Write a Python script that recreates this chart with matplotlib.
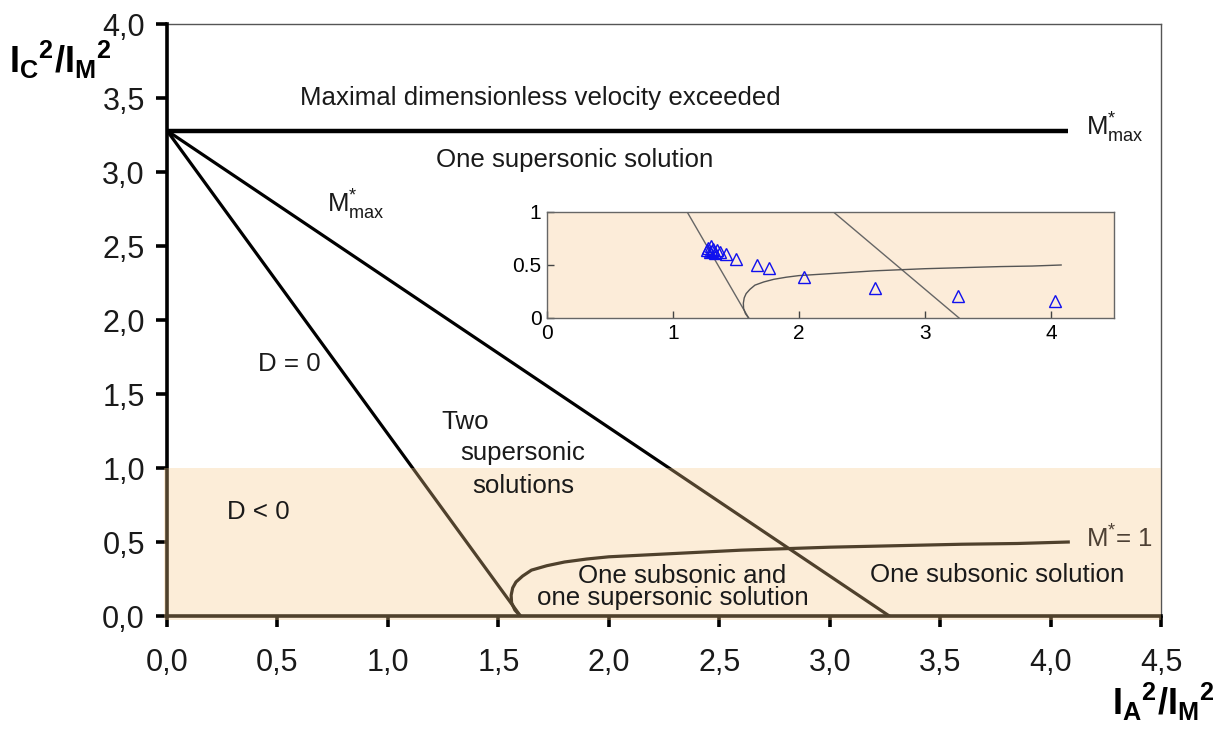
import matplotlib
matplotlib.use("Agg")
import matplotlib.pyplot as plt
from matplotlib.patches import Rectangle
from matplotlib.ticker import FuncFormatter, FixedLocator

plt.rcParams['font.family'] = ['Liberation Sans', 'DejaVu Sans']
plt.rcParams['mathtext.fontset'] = 'custom'
plt.rcParams['mathtext.rm'] = 'Liberation Sans'
plt.rcParams['mathtext.it'] = 'Liberation Sans:italic'
plt.rcParams['mathtext.bf'] = 'Liberation Sans:bold'

# ---------------- data ----------------
mmax_level = 3.28          # I_C^2/I_M^2 of the horizontal M*max line
mmax_line_end = 4.08       # x extent of horizontal line
dzero_x_intercept = 1.60   # D = 0 line hits y=0
mmax_x_intercept = 3.27    # diagonal M*max line hits y=0

curve_x = [1.60, 1.575, 1.56, 1.558, 1.565, 1.58, 1.61, 1.65, 1.72, 1.80, 1.90, 2.00,
           2.20, 2.40, 2.60, 2.80, 3.00, 3.30, 3.60, 3.85, 4.08]
curve_y = [0.00, 0.04, 0.09, 0.14, 0.19, 0.23, 0.27, 0.31, 0.34, 0.365, 0.385, 0.40,
           0.415, 0.43, 0.445, 0.455, 0.465, 0.475, 0.485, 0.49, 0.50]

tri_x = [1.27, 1.28, 1.29, 1.30, 1.31, 1.32, 1.33, 1.35, 1.37, 1.42, 1.50, 1.67, 1.76,
         2.04, 2.60, 3.26, 4.03]
tri_y = [0.64, 0.66, 0.62, 0.68, 0.63, 0.65, 0.61, 0.64, 0.62, 0.60, 0.56, 0.50, 0.47,
         0.385, 0.28, 0.21, 0.165]

x_ticks = [0.0, 0.5, 1.0, 1.5, 2.0, 2.5, 3.0, 3.5, 4.0, 4.5]
y_ticks = [0.0, 0.5, 1.0, 1.5, 2.0, 2.5, 3.0, 3.5, 4.0]
inset_x_ticks = [0, 1, 2, 3, 4]
inset_y_ticks = [0, 0.5, 1]
shade_top = 1.0

# ---------------- figure ----------------
fig = plt.figure(figsize=(12.17, 7.29), dpi=100)
ax = fig.add_axes([0.1372, 0.155, 0.8168, 0.812])
ax.set_xlim(0, 4.5)
ax.set_ylim(0, 4.0)

lw = 2.3
ax.plot([0, mmax_line_end], [mmax_level, mmax_level], color='black', lw=3.2,
        solid_capstyle='butt', zorder=2)
ax.plot([0, dzero_x_intercept], [mmax_level, 0], color='black', lw=lw, zorder=2)
ax.plot([0, mmax_x_intercept], [mmax_level, 0], color='black', lw=lw, zorder=2)
ax.plot(curve_x, curve_y, color='black', lw=lw, zorder=2)

for s in ['left', 'bottom']:
    ax.spines[s].set_linewidth(2.6)
    ax.spines[s].set_color('black')
    ax.spines[s].set_zorder(2.6)
for s in ['top', 'right']:
    ax.spines[s].set_linewidth(1.0)
    ax.spines[s].set_color('#555555')

# translucent shaded band laid over the lines and spines (makes them brownish)
ax.add_patch(Rectangle((-0.012, -0.025), 4.5 + 0.012, shade_top + 0.025,
                       facecolor='#F6C88A', alpha=0.325, edgecolor='none',
                       zorder=3, transform=ax.transData, clip_on=False))

ax.xaxis.set_major_locator(FixedLocator(x_ticks))
ax.yaxis.set_major_locator(FixedLocator(y_ticks))
comma = FuncFormatter(lambda v, p: f"{v:.1f}".replace('.', ','))
ax.xaxis.set_major_formatter(comma)
ax.yaxis.set_major_formatter(comma)
ax.tick_params(axis='both', direction='out', length=8, width=2.6, labelsize=22,
               color='black', labelcolor='#1a1a1a')
ax.tick_params(axis='x', pad=15)
ax.tick_params(axis='y', pad=8)
ax.tick_params(top=False, right=False)

fs = 18.6
tk = dict(fontsize=fs, color='#1a1a1a', zorder=5)
ax.text(0.60, 3.50, 'Maximal dimensionless velocity exceeded', ha='left', va='center', **tk)
ax.text(1.22, 3.08, 'One supersonic solution', ha='left', va='center', **tk)
ax.text(4.16, 3.30, r'M$^{*}_{\mathrm{max}}$', ha='left', va='center', **tk)
ax.text(0.725, 2.78, r'M$^{*}_{\mathrm{max}}$', ha='left', va='center', **tk)
ax.text(0.41, 1.70, 'D = 0', ha='left', va='center', **tk)
ax.text(1.24, 1.31, 'Two', ha='left', va='center', **tk)
ax.text(1.33, 1.10, 'supersonic', ha='left', va='center', **tk)
ax.text(1.38, 0.88, 'solutions', ha='left', va='center', **tk)
ax.text(0.27, 0.70, 'D < 0', ha='left', va='center', **tk)
ax.text(2.33, 0.27, 'One subsonic and', ha='center', va='center', **tk)
ax.text(2.29, 0.12, 'one supersonic solution', ha='center', va='center', **tk)
ax.text(3.76, 0.28, 'One subsonic solution', ha='center', va='center', **tk)
ax.text(4.16, 0.52, r'M$^{*}$= 1', ha='left', va='center', fontsize=fs,
        color='#4d4034', zorder=5)

fig.text(60/1217, 1-60/729, r'$\mathbf{I_{C}{}^{2}/I_{M}{}^{2}}$', ha='center', va='center',
         fontsize=26)
fig.text(1163/1217, 1-702/729, r'$\mathbf{I_{A}{}^{2}/I_{M}{}^{2}}$', ha='center', va='center',
         fontsize=26)

# ---------------- inset ----------------
ins = fig.add_axes([0.4495, 0.5638, 0.4659, 0.1454])
ins.set_facecolor('#FCECD9')
ins.set_xlim(0, 4.5)
ins.set_ylim(0, 1)
ins.plot([0, dzero_x_intercept], [mmax_level, 0], color='#666666', lw=1.0)
ins.plot([0, mmax_x_intercept], [mmax_level, 0], color='#666666', lw=1.0)
ins.plot(curve_x, curve_y, color='#555555', lw=1.0)
ins.plot(tri_x, tri_y, linestyle='none', marker='^', markersize=8.5,
         markerfacecolor='none', markeredgecolor='#1010ee', markeredgewidth=1.0)
ins.xaxis.set_major_locator(FixedLocator(inset_x_ticks))
ins.yaxis.set_major_locator(FixedLocator(inset_y_ticks))
ins.xaxis.set_major_formatter(FuncFormatter(lambda v, p: f"{v:g}"))
ins.yaxis.set_major_formatter(FuncFormatter(lambda v, p: f"{v:g}"))
ins.tick_params(direction='in', length=5, width=1, labelsize=15, color='#444444', pad=4)
for s in ins.spines.values():
    s.set_linewidth(1.0)
    s.set_color('#666666')

fig.savefig('out.png', dpi=100)
